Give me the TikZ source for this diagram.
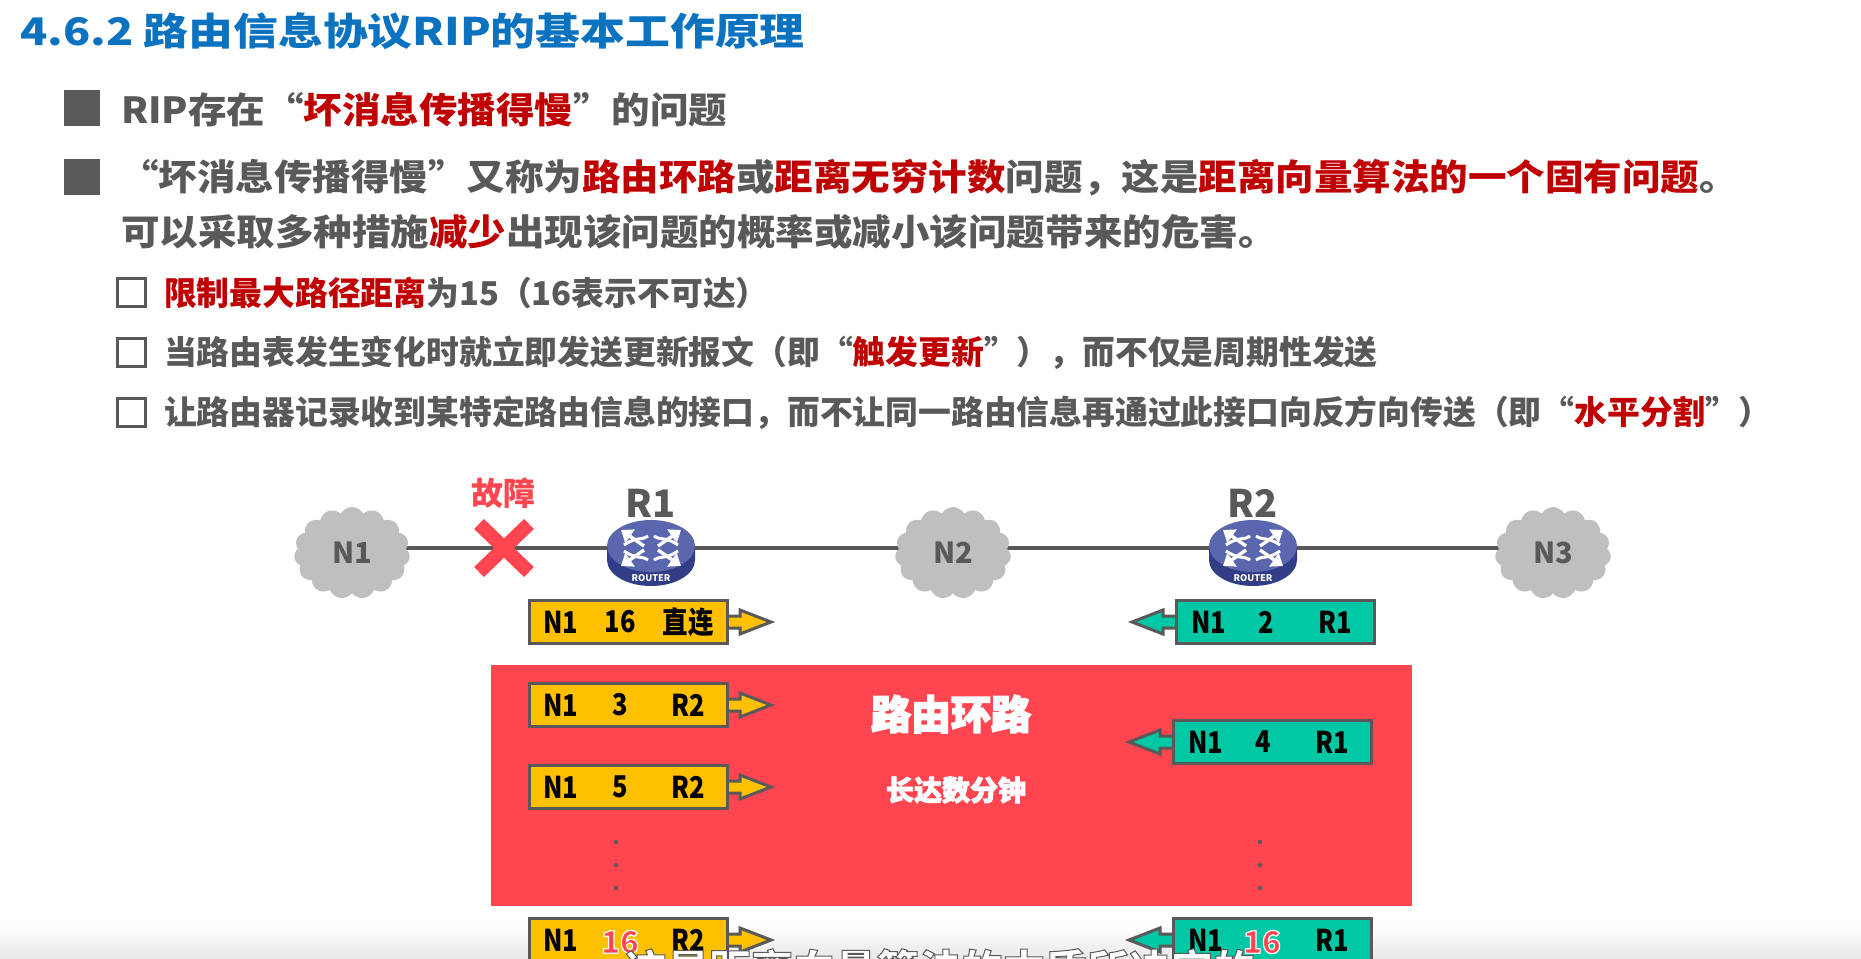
\documentclass[tikz,border=0pt]{standalone}
\usepackage{fontspec}
\usetikzlibrary{shapes.symbols,arrows.meta,calc}
\setmainfont{Noto Sans CJK SC}
\newfontfamily\titlefam[FakeStretch=1.18]{Noto Sans CJK SC}
\newfontfamily\headfam[FakeStretch=1.07]{Noto Sans CJK SC}
\newfontfamily\tagfam[FakeStretch=0.85]{Noto Sans CJK SC}
\definecolor{txtgray}{HTML}{595959}
\definecolor{txtred}{HTML}{C00000}
\definecolor{titleblue}{HTML}{0B72C0}
\definecolor{bandred}{HTML}{FF4650}
\definecolor{tagyellow}{HTML}{FFC000}
\definecolor{taggreen}{HTML}{00C8A4}
\definecolor{cloudgray}{HTML}{BFBFBF}
\definecolor{routertop}{HTML}{5A66AE}
\definecolor{routerside}{HTML}{323D88}
\newcommand{\R}[1]{\textcolor{txtred}{#1}}
% fill colour, stroke "r g b", stroke width, text: one outlined run of real text
\newcommand{\outlined}[4]{\textcolor{#1}{\special{pdf:code 2 Tr #3 w #2 RG}#4\special{pdf:code 0 Tr}}}
\pgfdeclarelayer{bg}
\pgfsetlayers{bg,main}
\tikzset{
  x=0.5pt,y=-0.5pt,
  every node/.style={inner sep=0pt,outer sep=0pt},
  titletext/.style={anchor=west,text=titleblue,font=\titlefam\fontsize{19pt}{19pt}\selectfont\bfseries},
  headtext/.style={anchor=west,text=txtgray,font=\headfam\fontsize{18pt}{18pt}\selectfont\bfseries},
  subtext/.style={anchor=west,text=txtgray,font=\fontsize{16.4pt}{17pt}\selectfont\bfseries},
  squaremark/.style={fill=txtgray,minimum width=18pt,minimum height=18pt},
  checkmark/.style={draw=txtgray,line width=1.5pt,fill=white,minimum width=14pt,minimum height=14pt},
  cloudnode/.style={cloud,cloud puffs=15,cloud puff arc=120,aspect=1.25,fill=cloudgray,
    minimum width=58pt,minimum height=46pt,text=txtgray,font=\fontsize{14.5pt}{15pt}\selectfont\bfseries},
  routerlabel/.style={text=txtgray,font=\fontsize{19pt}{19pt}\selectfont\bfseries},
  link/.style={draw=txtgray,line width=1.8pt},
  tagtext/.style={text=black,font=\tagfam\fontsize{15pt}{15pt}\selectfont\bfseries},
  tagbox/.style={draw=txtgray,line width=1.5pt,minimum width=99pt,minimum height=21.5pt},
  tagarrow/.style={draw=txtgray,line width=1.5pt,line join=miter},
}
% name, y centre, three texts; optional x shift
\newcommand{\yellowtag}[6][0]{%
  \node[tagbox,fill=tagyellow] (#2) at (628+#1,#3) {};
  \draw[tagarrow,fill=tagyellow] ($(#2.east)+(0,-6)$) -- ++(13,0) -- ++(0,-6) -- ($(#2.east)+(44,0)$)
     -- ($(#2.east)+(13,12)$) -- ++(0,-6) -- ($(#2.east)+(0,6)$);
  \node[tagbox,fill=tagyellow] at (#2) {};
  \node[tagtext] (#2a) at (561,#3) {#4};
  \node[tagtext] (#2b) at (620,#3) {#5};
  \node[tagtext] (#2c) at (688,#3) {#6};
}
\newcommand{\greentag}[6][0]{%
  \node[tagbox,fill=taggreen] (#2) at (1272+#1,#3) {};
  \draw[tagarrow,fill=taggreen] ($(#2.west)+(0,-6)$) -- ++(-13,0) -- ++(0,-6) -- ($(#2.west)+(-44,0)$)
     -- ($(#2.west)+(-13,12)$) -- ++(0,-6) -- ($(#2.west)+(0,6)$);
  \node[tagbox,fill=taggreen] at (#2) {};
  \node[tagtext] (#2a) at (1206+#1,#3) {#4};
  \node[tagtext] (#2b) at (1263+#1,#3) {#5};
  \node[tagtext] (#2c) at (1332+#1,#3) {#6};
}
\newcommand{\routerbody}[2]{% name, x
  \begin{scope}[shift={(#2,548)}]
    \fill[routerside] (-44,-2) -- (-44,12) arc[x radius=44,y radius=26,start angle=180,end angle=0] -- (44,-2) -- cycle;
    \fill[routertop] (0,-2) ellipse[x radius=44,y radius=26];
    \foreach \sx/\sy in {-1/-1,1/-1,-1/1,1/1}{
      \draw[white,line width=1.7pt,-{Triangle[length=5.5pt,width=8pt]}]
        (\sx*7,\sy*2) -- (\sx*30,\sy*18);
      \draw[white,line width=1.5pt] (\sx*3,\sy*12) .. controls (\sx*10,\sy*7) and (\sx*14,\sy*12) .. (\sx*27,\sy*3);
    }
    \node[text=white,font=\fontsize{4.6pt}{5pt}\selectfont\bfseries] (#1tag) at (0,30) {ROUTER};
  \end{scope}
}
\begin{document}
\begin{tikzpicture}
\useasboundingbox (0,0) rectangle (1861,958);
\clip (0,0) rectangle (1861,958);
\shade[top color=white,bottom color=black!9] (0,925) rectangle (1861,958);

% headings
\node[titletext] (title) at (20,31) {4.6.2 路由信息协议RIP的基本工作原理};
\node[squaremark] (m1) at (82,108) {};
\node[headtext] (l1) at (121,110) {RIP存在“\R{坏消息传播得慢}”的问题};
\node[squaremark] (m2) at (82,177) {};
\node[headtext] (l2) at (120,178) {“坏消息传播得慢”又称为\R{路由环路}或\R{距离无穷计数}问题，这是\R{距离向量算法的一个固有问题}。};
\node[headtext] (l3) at (121,232) {可以采取多种措施\R{减少}出现该问题的概率或减小该问题带来的危害。};
\node[checkmark] (c1) at (131,292) {};
\node[subtext] (s1) at (164,293) {\R{限制最大路径距离}为15（16表示不可达）};
\node[checkmark] (c2) at (131,352) {};
\node[subtext] (s2) at (164,353) {当路由表发生变化时就立即发送更新报文（即“\R{触发更新}”），而不仅是周期性发送};
\node[checkmark] (c3) at (131,412) {};
\node[subtext] (s3) at (164,413) {让路由器记录收到某特定路由信息的接口，而不让同一路由信息再通过此接口向反方向传送（即“\R{水平分割}”）};

% network
\node[cloudnode] (N1) at (352,553) {N1};
\node[cloudnode] (N2) at (953,553) {N2};
\node[cloudnode] (N3) at (1553,553) {N3};
\node[minimum size=44pt] (R1) at (651,548) {};
\node[minimum size=44pt] (R2) at (1253,548) {};
\begin{pgfonlayer}{bg}
  \draw[link] (N1 |- R1) -- (R1.center);
  \draw[link] (R1.center) -- (N2 |- R1);
  \draw[link] (N2 |- R2) -- (R2.center);
  \draw[link] (R2.center) -- (N3 |- R2);
\end{pgfonlayer}
\routerbody{R1}{651}
\routerbody{R2}{1253}
\node[routerlabel] (R1l) at (651,503) {R1};
\node[routerlabel] (R2l) at (1253,503) {R2};
\coordinate (X) at (504,548);
\draw[bandred,line width=7pt] ($(X)+(-25,-24)$) -- ($(X)+(25,24)$);
\draw[bandred,line width=7pt] ($(X)+(25,-24)$) -- ($(X)+(-25,24)$);
\node[font=\fontsize{16pt}{16pt}\selectfont\bfseries] (fault) at (503,493) {\textcolor{bandred}{故障}};

% first row
\yellowtag{ya}{622}{N1}{16}{直连}
\greentag[3]{ga}{622}{N1}{2}{R1}

% routing loop band
\node[fill=bandred,minimum width=460.5pt,minimum height=120.5pt] (band) at (951.5,785.5) {};
\node[font=\fontsize{20pt}{20pt}\selectfont\bfseries] (loop) at (951,714) {\outlined{white}{1 1 1}{0.7}{路由环路}};
\node[font=\fontsize{14pt}{14pt}\selectfont\bfseries] (dur) at (956,790) {\outlined{white}{1 1 1}{0.4}{长达数分钟}};
\yellowtag{yb}{705}{N1}{3}{R2}
\yellowtag{yc}{787}{N1}{5}{R2}
\greentag{gb}{742}{N1}{4}{R1}
\foreach \yy [count=\i] in {842,865,888}{
  \fill[txtgray] (616,\yy) circle[radius=2.2];
  \fill[txtgray] (1260,\yy) circle[radius=2.2];
}

% last row
\yellowtag{yd}{940}{N1}{}{R2}
\greentag{gd}{940}{N1}{}{R1}
\node[font=\fontsize{15.5pt}{16pt}\selectfont\bfseries] (y16) at (620,942) {\outlined{bandred}{1 1 1}{0.6}{16}};
\node[font=\fontsize{15.5pt}{16pt}\selectfont\bfseries] (g16) at (1262,942) {\outlined{bandred}{1 1 1}{0.6}{16}};
\node[font=\fontsize{21pt}{21pt}\selectfont\bfseries] (caption) at (940,969) {\outlined{white}{0.35 0.35 0.35}{0.5}{这是距离向量算法的本质所决定的}};
\end{tikzpicture}
\end{document}
